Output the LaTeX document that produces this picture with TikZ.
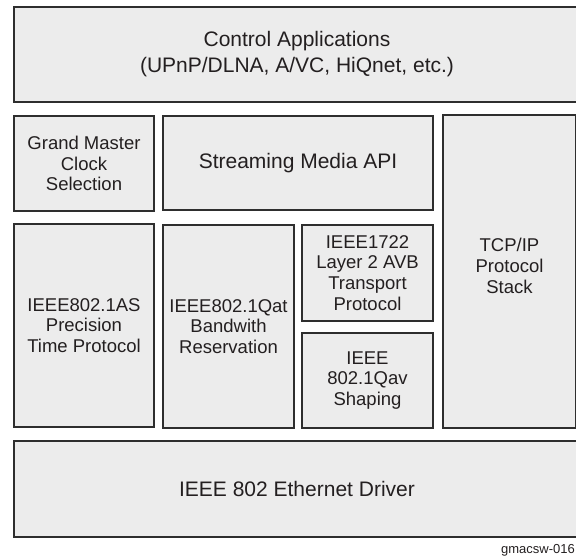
\documentclass[tikz,border=0pt]{standalone}
\usepackage{fontspec}
\setmainfont{Liberation Sans}
\definecolor{boxfill}{HTML}{ECECEC}
\definecolor{boxline}{HTML}{2E2E2E}
\definecolor{txt}{HTML}{231F20}
\tikzset{
  blk/.style={draw=boxline, fill=boxfill, line width=1.7pt, rectangle, inner sep=0pt,
    align=center, text=txt},
  bigtxt/.style={font=\fontsize{21}{26}\selectfont},
  smalltxt/.style={font=\fontsize{18.5}{20.8}\selectfont},
}
\begin{document}
\begin{tikzpicture}[x=1pt,y=-1pt]
\useasboundingbox (0,0) rectangle (576,556);
\node[blk,bigtxt,minimum width=566pt,minimum height=95pt] (ctrl) at (297,54.5)
  {Control Applications\\(UPnP/DLNA, A/VC, HiQnet, etc.)};
\node[blk,smalltxt,minimum width=140pt,minimum height=95pt] (gm) at (84,163.5)
  {Grand Master\\Clock\\Selection};
\node[blk,bigtxt,minimum width=270pt,minimum height=94pt] (sm) at (298,163)
  {Streaming Media API};
\node[blk,minimum width=133pt,minimum height=313pt] (tcp) at (509.5,271.5) {};
\node[smalltxt,align=center,text=txt,inner sep=0pt] (tcpt) at ([yshift=5.5pt]tcp.center)
  {TCP/IP\\Protocol\\Stack};
\node[blk,smalltxt,minimum width=140pt,minimum height=203pt] (as) at (84,325.5)
  {IEEE802.1AS\\Precision\\Time Protocol};
\node[blk,smalltxt,minimum width=131pt,minimum height=203pt] (qat) at (228.5,326.5)
  {IEEE802.1Qat\\Bandwith\\Reservation};
\node[blk,smalltxt,minimum width=131pt,minimum height=96pt] (avtp) at (367.5,273)
  {IEEE1722\\Layer 2 AVB\\Transport\\Protocol};
\node[blk,smalltxt,minimum width=131pt,minimum height=95pt] (qav) at (367.5,380.5)
  {IEEE\\802.1Qav\\Shaping};
\node[blk,bigtxt,minimum width=566pt,minimum height=96pt] (eth) at (297,489)
  {IEEE 802 Ethernet Driver};
\node[anchor=base east, inner sep=0pt, text=txt, font=\fontsize{13}{15}\selectfont] (code) at (575,553)
  {gmacsw-016};
\end{tikzpicture}
\end{document}
